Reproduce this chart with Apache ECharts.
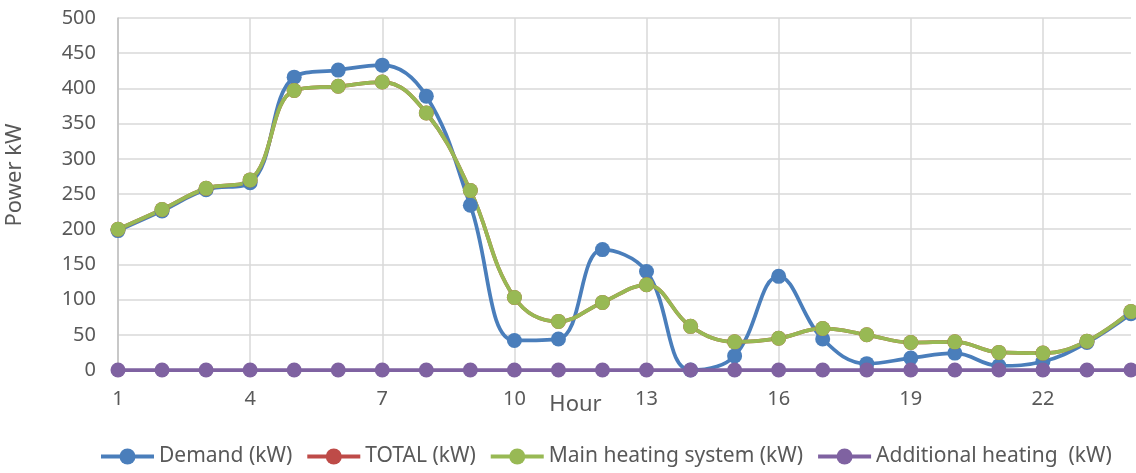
<!DOCTYPE html>
<html>
<head>
<meta charset="utf-8">
<script src="https://cdn.jsdelivr.net/npm/echarts@6/dist/echarts.min.js"></script>
<style>
  html, body { margin: 0; padding: 0; background: #fff; }
  #chart { width: 1136px; height: 473px; }
</style>
</head>
<body>
<div id="chart"></div>
<script>
const hours = ['1', '2', '3', '4', '5', '6', '7', '8', '9', '10', '11', '12',
  '13', '14', '15', '16', '17', '18', '19', '20', '21', '22', '23', '24']
const demand = [198, 226, 256, 266, 416, 426, 433, 389, 234, 42, 44, 171,
  140, 0, 20, 133, 44, 9, 17, 24, 6, 12, 39, 80]
const total = [200, 228, 258, 270, 397, 403, 409, 365, 255, 103, 69, 96,
  121, 62, 40, 45, 59, 50, 39, 40, 25, 24, 41, 83]
const mainHeating = [200, 228, 258, 270, 397, 403, 409, 365, 255, 103, 69, 96,
  121, 62, 40, 45, 59, 50, 39, 40, 25, 24, 41, 83]
const additional = [0, 0, 0, 0, 0, 0, 0, 0, 0, 0, 0, 0,
  0, 0, 0, 0, 0, 0, 0, 0, 0, 0, 0, 0]

const font = '"Noto Sans", sans-serif'
const textColor = '#595959'

function lineSeries(name, data, color) {
  return {
    name: name,
    type: 'line',
    data: data,
    smooth: 0.4,
    symbol: 'circle',
    symbolSize: 15,
    lineStyle: { color: color, width: 3.75 },
    itemStyle: { color: color },
    emphasis: { disabled: true }
  }
}

const chart = echarts.init(document.getElementById('chart'))

chart.setOption({
  animation: false,
  textStyle: { fontFamily: font },
  grid: { left: 118, right: 5, top: 18, bottom: 103, containLabel: false, outerBoundsMode: 'none' },
  legend: {
    bottom: 1,
    left: 94,
    itemWidth: 53,
    itemHeight: 20,
    itemGap: 13,
    lineStyle: { width: 4 },
    textStyle: { fontSize: 21, color: textColor, fontFamily: font },
    data: ['Demand (kW)', 'TOTAL (kW)', 'Main heating system (kW)', 'Additional heating  (kW)']
  },
  xAxis: {
    type: 'category',
    data: hours,
    boundaryGap: false,
    name: 'Hour',
    nameLocation: 'middle',
    nameGap: 24,
    nameMoveOverlap: false,
    nameTextStyle: { fontSize: 22, color: textColor, fontFamily: font, padding: [0, 98, 0, 0] },
    axisLine: { show: false },
    axisTick: { show: false },
    axisLabel: { interval: 2, margin: 19, fontSize: 20, color: textColor },
    splitLine: { show: true, interval: 2, lineStyle: { color: '#d9d9d9', width: 1.5 } }
  },
  yAxis: {
    type: 'value',
    min: 0,
    max: 500,
    interval: 50,
    name: 'Power kW',
    nameLocation: 'middle',
    nameGap: 92,
    nameMoveOverlap: false,
    nameTextStyle: { fontSize: 22, color: textColor, fontFamily: font, padding: [0, 0, 0, 38] },
    axisLine: { show: true, lineStyle: { color: '#bfbfbf', width: 1.5 } },
    axisTick: { show: false },
    axisLabel: { margin: 22, fontSize: 20, color: textColor },
    splitLine: { lineStyle: { color: '#d9d9d9', width: 1.5 } }
  },
  series: [
    lineSeries('Demand (kW)', demand, '#4A7EBB'),
    lineSeries('TOTAL (kW)', total, '#BE4B48'),
    lineSeries('Main heating system (kW)', mainHeating, '#98B954'),
    lineSeries('Additional heating  (kW)', additional, '#7F62A1')
  ]
})
</script>
</body>
</html>
